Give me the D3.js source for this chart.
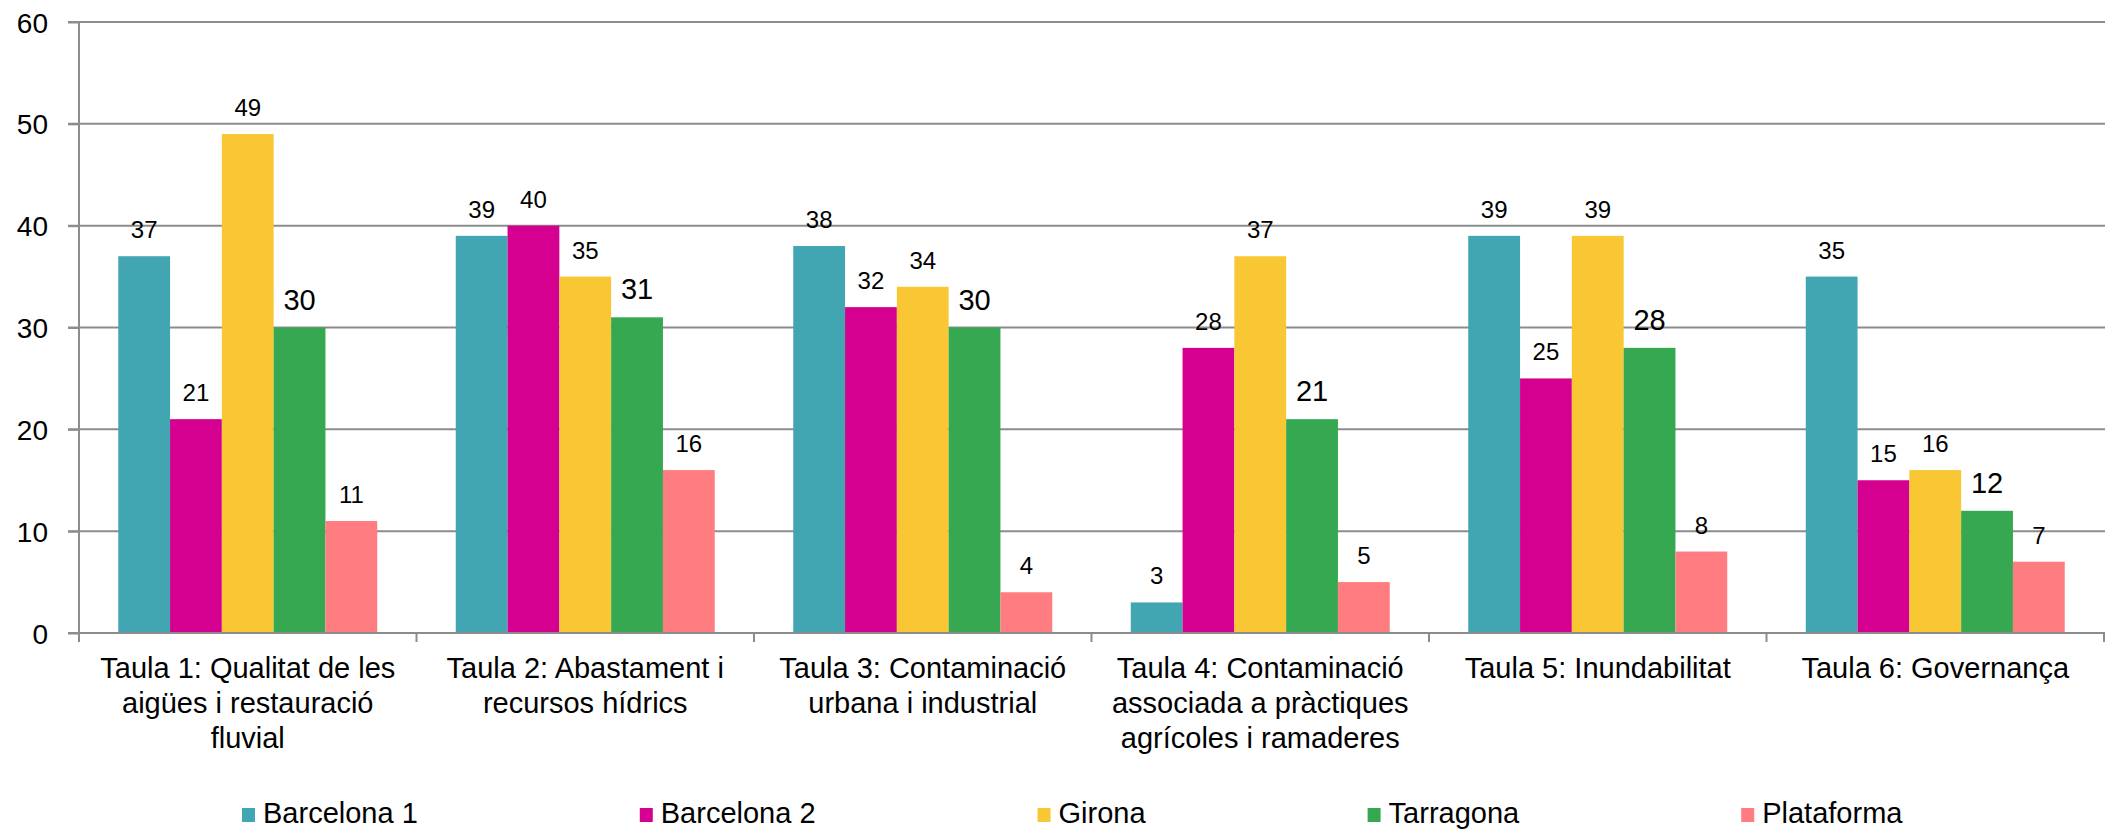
<!DOCTYPE html>
<html>
<head>
<meta charset="utf-8">
<script src="https://cdn.jsdelivr.net/npm/d3@7"></script>
<style>
    body { margin: 0; background: #fff; }
    svg text { font-family: "Liberation Sans", Arial, sans-serif; fill: #000; }
</style>
</head>
<body>
<div id="chart"></div>
<script>
// categories (wrapped the way the original chart wraps them)
categories = [
    ["Taula 1: Qualitat de les", "aigües i restauració", "fluvial"],
    ["Taula 2: Abastament i", "recursos hídrics"],
    ["Taula 3: Contaminació", "urbana i industrial"],
    ["Taula 4: Contaminació", "associada a pràctiques", "agrícoles i ramaderes"],
    ["Taula 5: Inundabilitat"],
    ["Taula 6: Governança"]
];

seriesNames = ["Barcelona 1", "Barcelona 2", "Girona", "Tarragona", "Plataforma"];
seriesColors = ["#41a5b2", "#d5008f", "#fac734", "#36a852", "#ff7c80"];

barcelona1 = [37, 39, 38, 3, 39, 35];
barcelona2 = [21, 40, 32, 28, 25, 15];
girona = [49, 35, 34, 37, 39, 16];
tarragona = [30, 31, 30, 21, 28, 12];
plataforma = [11, 16, 4, 5, 8, 7];

yTicks = [0, 10, 20, 30, 40, 50, 60];

seriesValues = [barcelona1, barcelona2, girona, tarragona, plataforma];

width = 2111;
height = 830;
plotLeft = 79;
plotRight = 2104;
plotTop = 22;
plotBottom = 633;
gridColor = "#8c8c8c";

svg = d3.select("#chart").append("svg")
    .attr("width", width)
    .attr("height", height);

/* Scales */
xScale = d3.scaleBand()
    .domain(d3.range(categories.length))
    .range([plotLeft, plotRight])
    .padding(0);

xInner = d3.scaleBand()
    .domain(d3.range(seriesNames.length))
    .range([0, xScale.bandwidth()])
    .paddingInner(0)
    .paddingOuter(0.758);

yScale = d3.scaleLinear()
    .domain([0, 60])
    .range([plotBottom, plotTop]);

/* gridlines */
svg.append("g")
    .selectAll("line")
    .data(yTicks)
    .enter()
    .append("line")
    .attr("x1", plotLeft - 11)
    .attr("x2", plotRight + 1)
    .attr("y1", d => yScale(d))
    .attr("y2", d => yScale(d))
    .style("stroke", gridColor)
    .style("stroke-width", 2);

/* y axis */
yAxis = d3.axisLeft(yScale).tickValues(yTicks).tickSize(11).tickPadding(20);
yAxisG = svg.append("g")
    .attr("transform", `translate(${plotLeft}, 0)`)
    .call(yAxis);
yAxisG.select(".domain").remove();
yAxisG.selectAll("line").style("stroke", gridColor).style("stroke-width", 2);
yAxisG.selectAll("text")
    .style("font-size", "28px")
    .style("font-family", "'Liberation Sans', Arial, sans-serif")
    .attr("dy", "0.36em");

svg.append("line")
    .attr("x1", plotLeft).attr("x2", plotLeft)
    .attr("y1", plotTop).attr("y2", plotBottom + 9)
    .style("stroke", gridColor)
    .style("stroke-width", 2);

/* bars */
groups = svg.append("g")
    .selectAll("g")
    .data(categories)
    .enter()
    .append("g")
    .attr("transform", (d, i) => `translate(${xScale(i)}, 0)`);

groups.selectAll("rect")
    .data((d, i) => seriesValues.map((s, j) => ({ series: j, value: s[i] })))
    .enter()
    .append("rect")
    .attr("x", d => xInner(d.series))
    .attr("width", xInner.bandwidth())
    .attr("y", d => yScale(d.value))
    .attr("height", d => yScale(0) - yScale(d.value))
    .style("fill", d => seriesColors[d.series]);

// data labels, Tarragona labels are bigger in the original
groups.selectAll(".label")
    .data((d, i) => seriesValues.map((s, j) => ({ series: j, value: s[i] })))
    .enter()
    .append("text")
    .attr("class", "label")
    .attr("x", d => xInner(d.series) + xInner.bandwidth() / 2)
    .attr("y", d => yScale(d.value) - 18)
    .attr("text-anchor", "middle")
    .style("font-size", d => d.series == 3 ? "29px" : "24px")
    .text(d => d.value);

/* x axis */
svg.append("line")
    .attr("x1", plotLeft).attr("x2", plotRight)
    .attr("y1", plotBottom).attr("y2", plotBottom)
    .style("stroke", gridColor)
    .style("stroke-width", 2);

svg.append("g")
    .selectAll("line")
    .data(d3.range(categories.length + 1))
    .enter()
    .append("line")
    .attr("x1", d => plotLeft + d * xScale.step())
    .attr("x2", d => plotLeft + d * xScale.step())
    .attr("y1", plotBottom)
    .attr("y2", plotBottom + 9)
    .style("stroke", gridColor)
    .style("stroke-width", 2);

catLabels = svg.append("g")
    .selectAll("text")
    .data(categories)
    .enter()
    .append("text")
    .attr("text-anchor", "middle")
    .attr("transform", (d, i) => `translate(${xScale(i) + xScale.bandwidth() / 2}, 678)`)
    .style("font-size", "29px");

catLabels.selectAll("tspan")
    .data(d => d)
    .enter()
    .append("tspan")
    .attr("x", 0)
    .attr("y", (d, i) => i * 35)
    .text(d => d);

/* legend */
legend = svg.append("g");
legendX = 242;
seriesNames.forEach(function (name, i) {
    item = legend.append("g").attr("transform", `translate(${legendX}, 0)`);
    item.append("rect")
        .attr("x", 0)
        .attr("y", 808)
        .attr("width", 13)
        .attr("height", 14)
        .style("fill", seriesColors[i]);
    t = item.append("text")
        .attr("x", 21)
        .attr("y", 823)
        .style("font-size", "29px")
        .text(name);
    legendX += 21 + t.node().getComputedTextLength() + 222;
});
</script>
</body>
</html>
